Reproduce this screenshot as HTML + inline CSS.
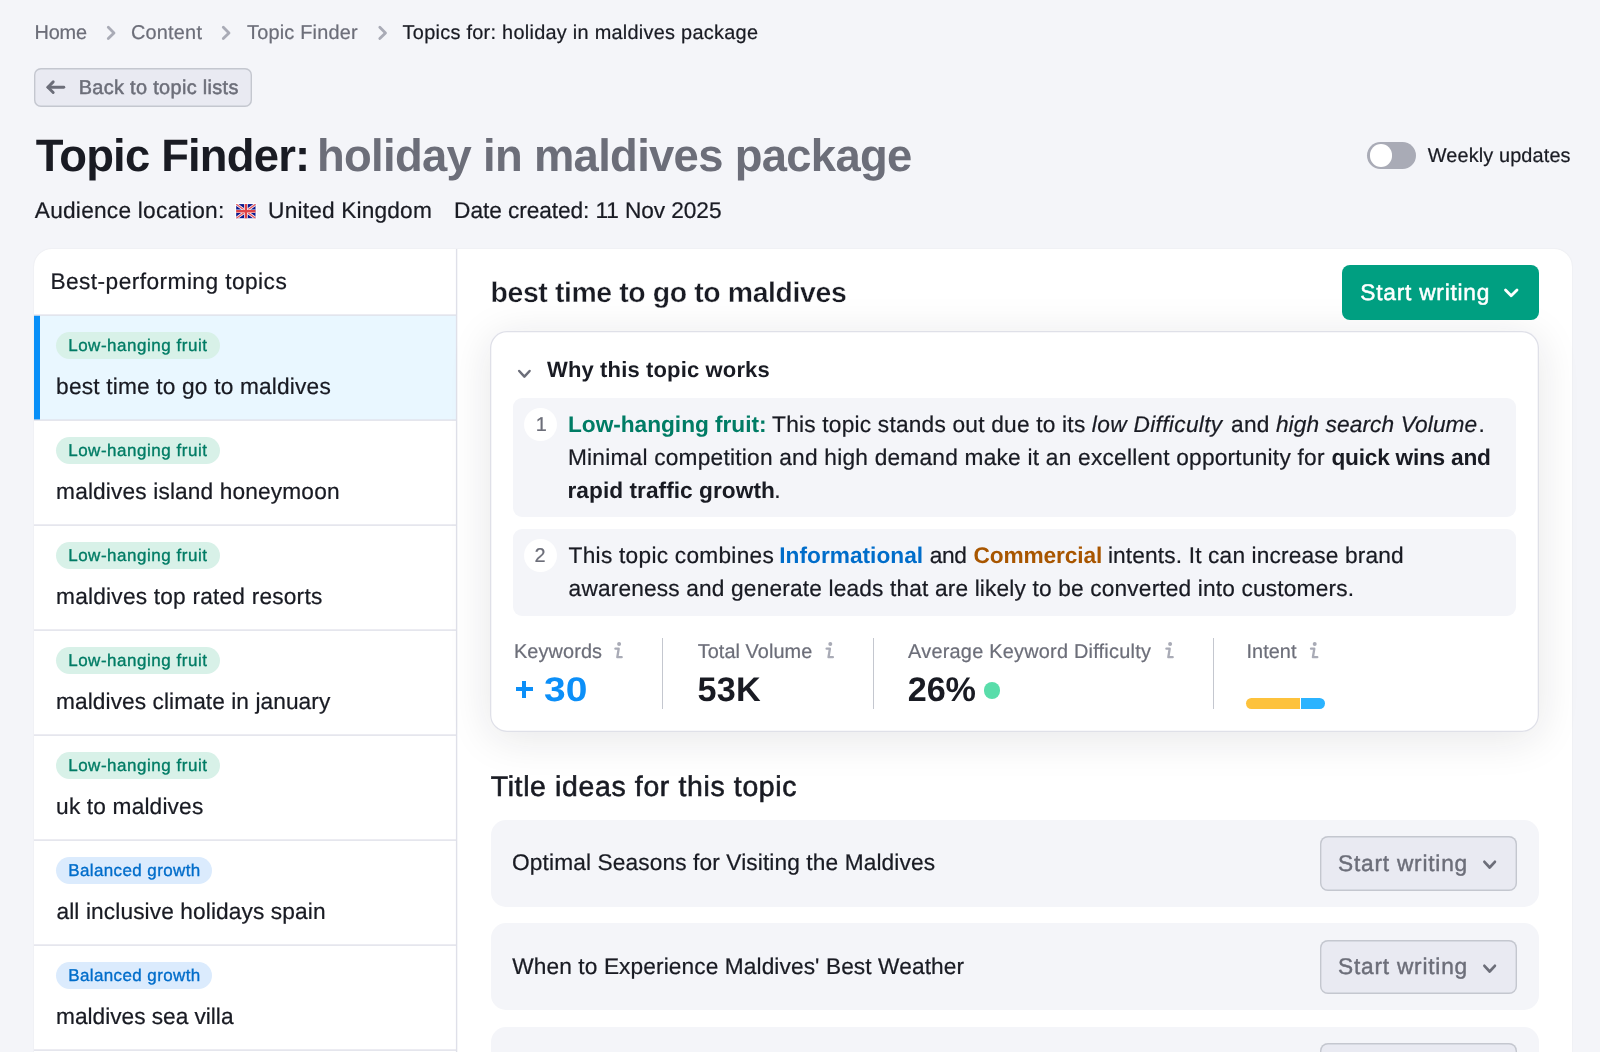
<!DOCTYPE html>
<html lang="en">
<head>
<meta charset="utf-8">
<title>Topic Finder</title>
<style>
html,body{margin:0;padding:0;}
body{width:1600px;height:1052px;overflow:hidden;position:relative;background:#f4f5f9;font-family:"Liberation Sans",sans-serif;}
.t{position:absolute;white-space:nowrap;line-height:1;text-rendering:geometricPrecision;}
.b{position:absolute;box-sizing:border-box;}
svg{position:absolute;overflow:visible;}
</style>
</head>
<body>
<!-- breadcrumb chevrons -->
<svg style="left:0;top:0" width="1600" height="60"><g fill="none" stroke="#a9abb6" stroke-width="2.8" stroke-linecap="round" stroke-linejoin="round">
<path d="M108.3 27.2 L114 32.9 L108.3 38.5"/>
<path d="M223.3 27.2 L229 32.9 L223.3 38.5"/>
<path d="M379.8 27.2 L385.5 32.9 L379.8 38.5"/>
</g></svg>
<!-- back button -->
<div class="b" style="left:34.2px;top:68px;width:217.6px;height:38.5px;box-shadow:inset 0 0 0 1.4px #c4c7cf;border-radius:7px;background:#e9eaf2;"></div>
<svg style="left:0;top:60px" width="300" height="60"><g fill="none" stroke="#6c6e79" stroke-width="2.9" stroke-linecap="round" stroke-linejoin="round">
<path d="M48 27.2 H63.8"/><path d="M53.2 21.9 L47.9 27.2 L53.2 32.5"/></g></svg>
<!-- toggle -->
<div class="b" style="left:1367px;top:142px;width:49px;height:27px;border-radius:14px;background:#a9abb6;"></div>
<div class="b" style="left:1369.5px;top:144.4px;width:22.4px;height:22.4px;border-radius:50%;background:#fff;"></div>
<!-- flag -->
<svg style="left:235px;top:202.7px" width="21.8" height="16.5" viewBox="0 0 21.8 16.5">
<rect x="0" y="0" width="21.8" height="16.5" rx="1.5" fill="#fff"/>
<g transform="translate(1.1,1.1)">
<clipPath id="fc"><rect x="0" y="0" width="19.6" height="14.3"/></clipPath>
<g clip-path="url(#fc)">
<rect width="19.6" height="14.3" fill="#0a168c"/>
<path d="M0 0 L19.6 14.3 M19.6 0 L0 14.3" stroke="#f4f4fb" stroke-width="2.9"/>
<path d="M0 0 L19.6 14.3 M19.6 0 L0 14.3" stroke="#e85a5e" stroke-width="1.3"/>
<path d="M9.8 0 V14.3 M0 7.15 H19.6" stroke="#f6f0f4" stroke-width="3.7"/>
<path d="M9.8 0 V14.3 M0 7.15 H19.6" stroke="#de4347" stroke-width="2.3"/>
</g></g></svg>
<!-- outer card -->
<div class="b" style="left:34px;top:248.5px;width:1538px;height:840px;border-radius:18px;background:#fff;box-shadow:0 0 2px rgba(25,27,35,0.07);"></div>
<!-- left list -->
<div class="b" style="left:34px;top:315px;width:422px;height:105px;background:#e9f7ff;"></div>
<div class="b" style="left:34px;top:315px;width:5.5px;height:105px;background:#078ff8;"></div>
<svg style="left:0;top:0" width="1600" height="1052"><g fill="#dfe0e9"><rect x="34" y="314.4" width="422" height="1.4"/><rect x="34" y="419.4" width="422" height="1.4"/><rect x="34" y="524.4" width="422" height="1.4"/><rect x="34" y="629.4" width="422" height="1.4"/><rect x="34" y="734.4" width="422" height="1.4"/><rect x="34" y="839.4" width="422" height="1.4"/><rect x="34" y="944.4" width="422" height="1.4"/><rect x="34" y="1049.4" width="422" height="1.4"/><rect x="455.9" y="249" width="1.4" height="810"/></g></svg>
<!-- tags -->
<div class="b" style="left:56px;top:332px;width:164px;height:27px;border-radius:14px;background:#d8f1e8;"></div>
<div class="b" style="left:56px;top:437px;width:164px;height:27px;border-radius:14px;background:#d8f1e8;"></div>
<div class="b" style="left:56px;top:542px;width:164px;height:27px;border-radius:14px;background:#d8f1e8;"></div>
<div class="b" style="left:56px;top:647px;width:164px;height:27px;border-radius:14px;background:#d8f1e8;"></div>
<div class="b" style="left:56px;top:752px;width:164px;height:27px;border-radius:14px;background:#d8f1e8;"></div>
<div class="b" style="left:56px;top:857px;width:156px;height:27px;border-radius:14px;background:#dbebfd;"></div>
<div class="b" style="left:56px;top:962px;width:156px;height:27px;border-radius:14px;background:#dbebfd;"></div>
<!-- inner card -->
<div class="b" style="left:490px;top:331px;width:1048.5px;height:400.5px;border-radius:17px;background:#fff;box-shadow:inset 0 0 0 1.3px #dfe0e8, 0 6px 44px rgba(25,27,35,0.11);"></div>
<svg style="left:510px;top:360px" width="30" height="30"><path d="M9.2 11 L14.4 16.6 L19.6 11" fill="none" stroke="#6c6e79" stroke-width="2.5" stroke-linecap="round" stroke-linejoin="round"/></svg>
<div class="b" style="left:513px;top:397.5px;width:1002.5px;height:119.5px;border-radius:9px;background:#f4f5f9;"></div>
<div class="b" style="left:513px;top:529px;width:1002.5px;height:87px;border-radius:9px;background:#f4f5f9;"></div>
<div class="b" style="left:524.2px;top:408px;width:33px;height:33px;border-radius:50%;background:#fff;"></div>
<div class="b" style="left:524.2px;top:538.8px;width:33px;height:33px;border-radius:50%;background:#fff;"></div>
<!-- green button -->
<div class="b" style="left:1342px;top:265px;width:196.5px;height:54.5px;border-radius:8px;background:#009f81;"></div>
<svg style="left:1500px;top:280px" width="30" height="30"><path d="M5.5 10 L11.2 15.8 L17 10" fill="none" stroke="#fff" stroke-width="2.8" stroke-linecap="round" stroke-linejoin="round"/></svg>
<!-- stat dividers -->
<div class="b" style="left:662.2px;top:638px;width:1.2px;height:70.6px;background:#c4c7cf;"></div>
<div class="b" style="left:873.2px;top:638px;width:1.2px;height:70.6px;background:#c4c7cf;"></div>
<div class="b" style="left:1212.6px;top:638px;width:1.2px;height:70.6px;background:#c4c7cf;"></div>
<!-- info icons -->
<svg style="left:0;top:630px" width="1600" height="40"><g fill="none" stroke="#a9abb6" stroke-width="2.3" stroke-linecap="round" stroke-linejoin="round">
<g id="ii"><path d="M615.4 18.7 H618.7 L617.3 27.2 H621.7"/><circle cx="619.1" cy="13.9" r="1.2" fill="#a9abb6" stroke-width="1.6"/></g>
<use href="#ii" x="211.2"/><use href="#ii" x="551"/><use href="#ii" x="695.6"/>
</g></svg>
<!-- KD dot -->
<div class="b" style="left:983.6px;top:682px;width:16.6px;height:16.6px;border-radius:50%;background:#59ddaa;"></div>
<!-- intent bar -->
<div class="b" style="left:1246.4px;top:698px;width:53.6px;height:10.8px;border-radius:5.4px 0 0 5.4px;background:#fdc23c;"></div>
<div class="b" style="left:1301.4px;top:698px;width:23.6px;height:10.8px;border-radius:0 5.4px 5.4px 0;background:#2bb3ff;"></div>
<!-- rows -->
<div class="b" style="left:490.5px;top:819.7px;width:1048px;height:87px;border-radius:15px;background:#f4f5f9;"></div>
<div class="b" style="left:490.5px;top:923.3px;width:1048px;height:87px;border-radius:15px;background:#f4f5f9;"></div>
<div class="b" style="left:490.5px;top:1027px;width:1048px;height:87px;border-radius:15px;background:#f4f5f9;"></div>
<div class="b" style="left:1320px;top:836px;width:197px;height:54.5px;border-radius:8px;background:#e9eaf2;box-shadow:inset 0 0 0 1.4px #c4c7cf;"></div>
<div class="b" style="left:1320px;top:939.6px;width:197px;height:54.5px;border-radius:8px;background:#e9eaf2;box-shadow:inset 0 0 0 1.4px #c4c7cf;"></div>
<div class="b" style="left:1320px;top:1043.2px;width:197px;height:54.5px;border-radius:8px;background:#e9eaf2;box-shadow:inset 0 0 0 1.4px #c4c7cf;"></div>
<svg style="left:1478px;top:850px" width="30" height="30"><path d="M6.4 11.8 L11.65 17.5 L16.9 11.8" fill="none" stroke="#6c6e79" stroke-width="2.7" stroke-linecap="round" stroke-linejoin="round"/></svg>
<svg style="left:1478px;top:953.6px" width="30" height="30"><path d="M6.4 11.8 L11.65 17.5 L16.9 11.8" fill="none" stroke="#6c6e79" stroke-width="2.7" stroke-linecap="round" stroke-linejoin="round"/></svg>
<!-- plus -->
<div class="b" style="left:515.6px;top:687.25px;width:17.4px;height:4.2px;background:#0c8ff8;"></div>
<div class="b" style="left:522.2px;top:680.8px;width:4.2px;height:17.1px;background:#0c8ff8;"></div>

<div id="tx" style="position:absolute;left:0;top:0;width:1600px;height:1052px;will-change:transform;">
<div class="t" style="left:34.41px;top:24.00px;font-size:19.9px;color:#6c6e79;letter-spacing:-0.139px;-webkit-text-stroke:0.22px #6c6e79;">Home</div>
<div class="t" style="left:131.01px;top:24.00px;font-size:19.9px;color:#6c6e79;letter-spacing:0.207px;-webkit-text-stroke:0.22px #6c6e79;">Content</div>
<div class="t" style="left:247.11px;top:24.00px;font-size:19.9px;color:#6c6e79;letter-spacing:0.188px;-webkit-text-stroke:0.22px #6c6e79;">Topic Finder</div>
<div class="t" style="left:402.61px;top:24.00px;font-size:19.9px;color:#191b23;letter-spacing:0.274px;-webkit-text-stroke:0.22px #191b23;">Topics for: holiday in maldives package</div>
<div class="t" style="left:78.65px;top:79.00px;font-size:19.9px;color:#6c6e79;letter-spacing:0.341px;-webkit-text-stroke:0.5px #6c6e79;">Back to topic lists</div>
<div class="t" style="left:35.70px;top:133.00px;font-size:45.4px;color:#191b23;letter-spacing:-0.806px;font-weight:700;">Topic Finder:</div>
<div class="t" style="left:317.00px;top:133.00px;font-size:45.4px;color:#6c6e79;letter-spacing:-0.684px;font-weight:700;">holiday in maldives package</div>
<div class="t" style="left:34.81px;top:199.00px;font-size:22.7px;color:#191b23;letter-spacing:0.234px;-webkit-text-stroke:0.22px #191b23;">Audience location:</div>
<div class="t" style="left:268.11px;top:199.00px;font-size:22.7px;color:#191b23;letter-spacing:0.173px;-webkit-text-stroke:0.22px #191b23;">United Kingdom</div>
<div class="t" style="left:454.11px;top:199.00px;font-size:22.7px;color:#191b23;letter-spacing:-0.087px;-webkit-text-stroke:0.22px #191b23;">Date created: 11 Nov 2025</div>
<div class="t" style="left:1427.71px;top:147.00px;font-size:19.9px;color:#191b23;letter-spacing:0.128px;-webkit-text-stroke:0.22px #191b23;">Weekly updates</div>
<div class="t" style="left:50.41px;top:270.00px;font-size:22.7px;color:#191b23;letter-spacing:0.446px;-webkit-text-stroke:0.22px #191b23;">Best-performing topics</div>
<div class="t" style="left:68.17px;top:337.00px;font-size:17.0px;color:#007c65;letter-spacing:0.529px;-webkit-text-stroke:0.35px #007c65;">Low-hanging fruit</div>
<div class="t" style="left:56.11px;top:375.00px;font-size:22.7px;color:#191b23;letter-spacing:0.183px;-webkit-text-stroke:0.22px #191b23;">best time to go to maldives</div>
<div class="t" style="left:68.17px;top:442.00px;font-size:17.0px;color:#007c65;letter-spacing:0.529px;-webkit-text-stroke:0.35px #007c65;">Low-hanging fruit</div>
<div class="t" style="left:56.11px;top:480.00px;font-size:22.7px;color:#191b23;letter-spacing:0.143px;-webkit-text-stroke:0.22px #191b23;">maldives island honeymoon</div>
<div class="t" style="left:68.17px;top:547.00px;font-size:17.0px;color:#007c65;letter-spacing:0.529px;-webkit-text-stroke:0.35px #007c65;">Low-hanging fruit</div>
<div class="t" style="left:56.11px;top:585.00px;font-size:22.7px;color:#191b23;letter-spacing:0.204px;-webkit-text-stroke:0.22px #191b23;">maldives top rated resorts</div>
<div class="t" style="left:68.17px;top:652.00px;font-size:17.0px;color:#007c65;letter-spacing:0.529px;-webkit-text-stroke:0.35px #007c65;">Low-hanging fruit</div>
<div class="t" style="left:56.11px;top:690.00px;font-size:22.7px;color:#191b23;letter-spacing:0.068px;-webkit-text-stroke:0.22px #191b23;">maldives climate in january</div>
<div class="t" style="left:68.17px;top:757.00px;font-size:17.0px;color:#007c65;letter-spacing:0.529px;-webkit-text-stroke:0.35px #007c65;">Low-hanging fruit</div>
<div class="t" style="left:56.11px;top:795.00px;font-size:22.7px;color:#191b23;letter-spacing:0.163px;-webkit-text-stroke:0.22px #191b23;">uk to maldives</div>
<div class="t" style="left:68.17px;top:862.00px;font-size:17.0px;color:#006dca;letter-spacing:0.391px;-webkit-text-stroke:0.35px #006dca;">Balanced growth</div>
<div class="t" style="left:56.51px;top:900.00px;font-size:22.7px;color:#191b23;letter-spacing:0.108px;-webkit-text-stroke:0.22px #191b23;">all inclusive holidays spain</div>
<div class="t" style="left:68.17px;top:967.00px;font-size:17.0px;color:#006dca;letter-spacing:0.391px;-webkit-text-stroke:0.35px #006dca;">Balanced growth</div>
<div class="t" style="left:56.11px;top:1005.00px;font-size:22.7px;color:#191b23;letter-spacing:-0.023px;-webkit-text-stroke:0.22px #191b23;">maldives sea villa</div>
<div class="t" style="left:490.52px;top:279.00px;font-size:28.4px;color:#191b23;letter-spacing:-0.377px;font-weight:700;-webkit-text-stroke:0.35px #ffffff;">best time to go to maldives</div>
<div class="t" style="left:1360.25px;top:281.00px;font-size:22.7px;color:#ffffff;letter-spacing:0.779px;-webkit-text-stroke:0.5px #ffffff;">Start writing</div>
<div class="t" style="left:547.00px;top:359.00px;font-size:22.0px;color:#191b23;letter-spacing:0.143px;font-weight:700;">Why this topic works</div>
<div class="t" style="left:535.81px;top:416.00px;font-size:19.9px;color:#6c6e79;letter-spacing:0.000px;-webkit-text-stroke:0.22px #6c6e79;">1</div>
<div class="t" style="left:568.00px;top:413.00px;font-size:22.7px;color:#007c65;letter-spacing:-0.032px;font-weight:700;">Low-hanging fruit:</div>
<div class="t" style="left:772.11px;top:413.00px;font-size:22.7px;color:#191b23;letter-spacing:0.215px;-webkit-text-stroke:0.22px #191b23;">This topic stands out due to its</div>
<div class="t" style="left:1091.81px;top:413.00px;font-size:22.7px;color:#191b23;letter-spacing:0.335px;font-style:italic;-webkit-text-stroke:0.22px #191b23;">low Difficulty</div>
<div class="t" style="left:1231.11px;top:413.00px;font-size:22.7px;color:#191b23;letter-spacing:0.172px;-webkit-text-stroke:0.22px #191b23;">and</div>
<div class="t" style="left:1275.91px;top:413.00px;font-size:22.7px;color:#191b23;letter-spacing:0.095px;font-style:italic;-webkit-text-stroke:0.22px #191b23;">high search Volume</div>
<div class="t" style="left:1478.41px;top:413.00px;font-size:22.7px;color:#191b23;letter-spacing:0.000px;-webkit-text-stroke:0.22px #191b23;">.</div>
<div class="t" style="left:567.91px;top:446.00px;font-size:22.7px;color:#191b23;letter-spacing:0.229px;-webkit-text-stroke:0.22px #191b23;">Minimal competition and high demand make it an excellent opportunity for</div>
<div class="t" style="left:1331.50px;top:446.00px;font-size:22.7px;color:#191b23;letter-spacing:-0.251px;font-weight:700;">quick wins and</div>
<div class="t" style="left:567.50px;top:479.00px;font-size:22.7px;color:#191b23;letter-spacing:0.034px;font-weight:700;">rapid traffic growth</div>
<div class="t" style="left:774.31px;top:479.00px;font-size:22.7px;color:#191b23;letter-spacing:0.000px;-webkit-text-stroke:0.22px #191b23;">.</div>
<div class="t" style="left:534.61px;top:547.00px;font-size:19.9px;color:#6c6e79;letter-spacing:0.000px;-webkit-text-stroke:0.22px #6c6e79;">2</div>
<div class="t" style="left:568.61px;top:544.00px;font-size:22.7px;color:#191b23;letter-spacing:0.258px;-webkit-text-stroke:0.22px #191b23;">This topic combines</div>
<div class="t" style="left:779.30px;top:544.00px;font-size:22.7px;color:#006dca;letter-spacing:0.009px;font-weight:700;">Informational</div>
<div class="t" style="left:929.71px;top:544.00px;font-size:22.7px;color:#191b23;letter-spacing:-0.328px;-webkit-text-stroke:0.22px #191b23;">and</div>
<div class="t" style="left:973.50px;top:544.00px;font-size:22.7px;color:#a85600;letter-spacing:-0.119px;font-weight:700;">Commercial</div>
<div class="t" style="left:1107.91px;top:544.00px;font-size:22.7px;color:#191b23;letter-spacing:0.154px;-webkit-text-stroke:0.22px #191b23;">intents. It can increase brand</div>
<div class="t" style="left:568.61px;top:577.00px;font-size:22.7px;color:#191b23;letter-spacing:0.164px;-webkit-text-stroke:0.22px #191b23;">awareness and generate leads that are likely to be converted into customers.</div>
<div class="t" style="left:513.91px;top:643.00px;font-size:19.9px;color:#6c6e79;letter-spacing:0.113px;-webkit-text-stroke:0.22px #6c6e79;">Keywords</div>
<div class="t" style="left:697.71px;top:643.00px;font-size:19.9px;color:#6c6e79;letter-spacing:0.060px;-webkit-text-stroke:0.22px #6c6e79;">Total Volume</div>
<div class="t" style="left:908.11px;top:643.00px;font-size:19.9px;color:#6c6e79;letter-spacing:0.231px;-webkit-text-stroke:0.22px #6c6e79;">Average Keyword Difficulty</div>
<div class="t" style="left:1246.41px;top:643.00px;font-size:19.9px;color:#6c6e79;letter-spacing:0.068px;-webkit-text-stroke:0.22px #6c6e79;">Intent</div>
<div class="t" style="left:543.90px;top:673.00px;font-size:34.2px;color:#0c8ff8;letter-spacing:0.000px;transform:scaleX(1.1401);transform-origin:0 0;font-weight:700;">30</div>
<div class="t" style="left:697.40px;top:673.00px;font-size:34.2px;color:#191b23;letter-spacing:0.237px;font-weight:700;">53K</div>
<div class="t" style="left:907.80px;top:673.00px;font-size:34.2px;color:#191b23;letter-spacing:-0.163px;font-weight:700;">26%</div>
<div class="t" style="left:490.70px;top:773.00px;font-size:28.4px;color:#191b23;letter-spacing:0.660px;-webkit-text-stroke:0.6px #191b23;">Title ideas for this topic</div>
<div class="t" style="left:512.11px;top:851.00px;font-size:22.7px;color:#191b23;letter-spacing:0.117px;-webkit-text-stroke:0.22px #191b23;">Optimal Seasons for Visiting the Maldives</div>
<div class="t" style="left:512.31px;top:955.00px;font-size:22.7px;color:#191b23;letter-spacing:0.099px;-webkit-text-stroke:0.22px #191b23;">When to Experience Maldives' Best Weather</div>
<div class="t" style="left:1338.01px;top:852.00px;font-size:22.7px;color:#6c6e79;letter-spacing:0.785px;-webkit-text-stroke:0.42px #6c6e79;">Start writing</div>
<div class="t" style="left:1338.01px;top:955.00px;font-size:22.7px;color:#6c6e79;letter-spacing:0.785px;-webkit-text-stroke:0.42px #6c6e79;">Start writing</div>
</div>
</body>
</html>
